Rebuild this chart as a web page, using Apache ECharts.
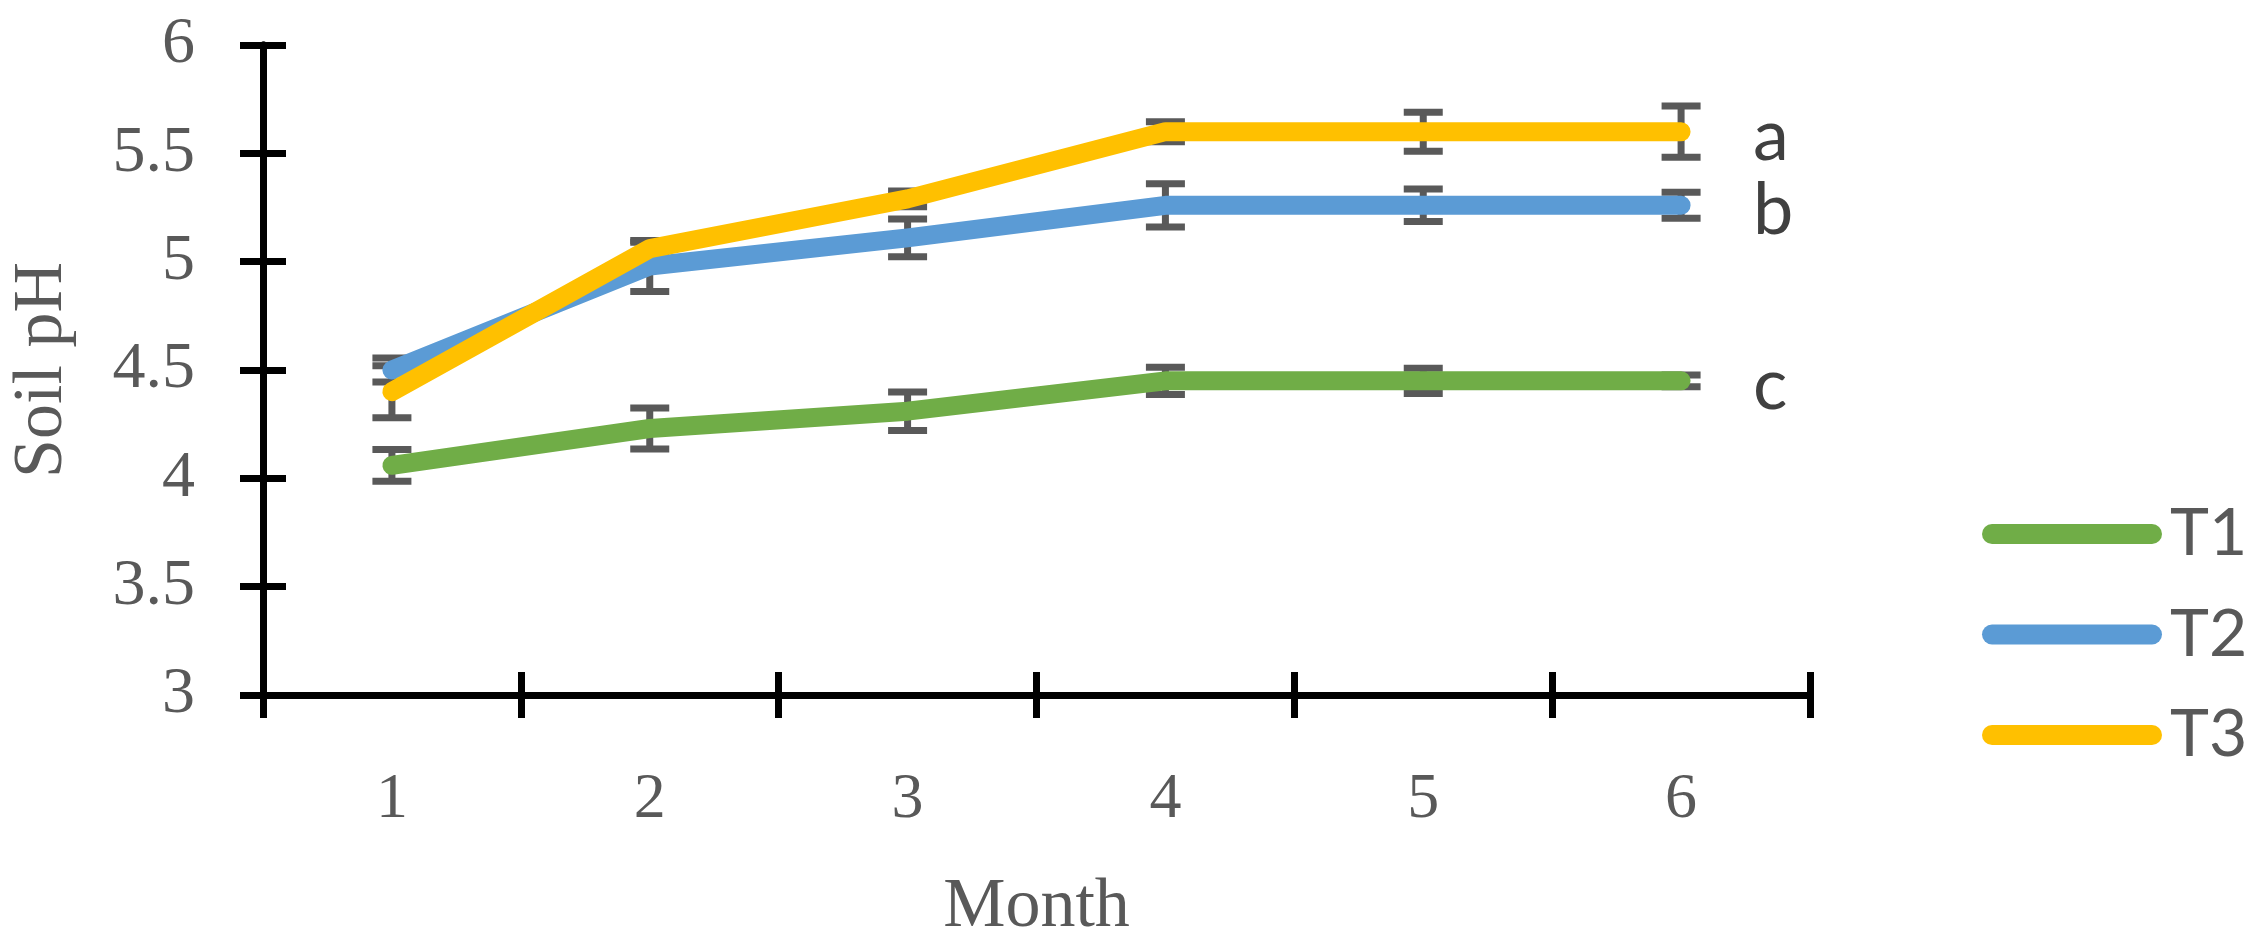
<!DOCTYPE html>
<html>
<head>
<meta charset="utf-8">
<script src="https://cdn.jsdelivr.net/npm/echarts@6/dist/echarts.min.js"></script>
<style>
html,body{margin:0;padding:0;background:#fff;}
#chart{width:2256px;height:948px;}
</style>
</head>
<body>
<div id="chart"></div>
<script>
const months = ['1', '2', '3', '4', '5', '6'];
const seriesNames = ['T1', 'T2', 'T3'];
const t1Values = [4.06, 4.23, 4.31, 4.45, 4.45, 4.45];
const t1Errors = [0.073, 0.095, 0.089, 0.063, 0.058, 0.027];
const t2Values = [4.50, 4.98, 5.11, 5.26, 5.26, 5.26];
const t2Errors = [0.055, 0.118, 0.087, 0.10, 0.075, 0.06];
const t3Values = [4.40, 5.06, 5.29, 5.60, 5.60, 5.60];
const t3Errors = [0.12, 0.03, 0.036, 0.046, 0.09, 0.118];
const groupLetters = ['c', 'b', 'a'];
const colors = ['#70AD47', '#5B9BD5', '#FFC000'];

const valueSets = [t1Values, t2Values, t3Values];
const errorSets = [t1Errors, t2Errors, t3Errors];

const serif = '"Liberation Serif", "DejaVu Serif", serif';
const sans = 'Lato, "Open Sans", sans-serif';

function renderErr(params, api) {
  const x = api.value(0);
  const lo = api.coord([x, api.value(1)]);
  const hi = api.coord([x, api.value(2)]);
  const hw = 19.5;
  const style = { stroke: '#595959', lineWidth: 7, fill: null };
  return {
    type: 'group',
    children: [
      { type: 'line', shape: { x1: lo[0], y1: lo[1], x2: hi[0], y2: hi[1] }, style: style },
      { type: 'line', shape: { x1: lo[0] - hw, y1: lo[1], x2: lo[0] + hw, y2: lo[1] }, style: style },
      { type: 'line', shape: { x1: hi[0] - hw, y1: hi[1], x2: hi[0] + hw, y2: hi[1] }, style: style }
    ]
  };
}

const series = [];
valueSets.forEach((vals, i) => {
  series.push({
    name: 'err-' + seriesNames[i],
    type: 'custom',
    xAxisIndex: 0,
    yAxisIndex: 0,
    renderItem: renderErr,
    encode: { x: 0, y: [1, 2] },
    data: vals.map((v, j) => [j, v - errorSets[i][j], v + errorSets[i][j]]),
    z: 1,
    silent: true
  });
});
valueSets.forEach((vals, i) => {
  series.push({
    name: seriesNames[i],
    type: 'line',
    xAxisIndex: 0,
    yAxisIndex: 0,
    data: vals,
    symbol: 'none',
    showSymbol: false,
    color: colors[i],
    lineStyle: { width: 19, color: colors[i], cap: 'round', join: 'round' },
    z: 3,
    endLabel: {
      show: true,
      distance: 72,
      offset: [0, 5],
      fontFamily: sans,
      fontSize: 72,
      color: '#404040',
      formatter: () => groupLetters[i]
    }
  });
});

const axisLineStyle = { color: '#000', width: 7 };

const option = {
  animation: false,
  backgroundColor: '#fff',
  grid: { left: 260, right: 446, top: 45, bottom: 248, containLabel: false },
  legend: {
    data: seriesNames,
    orient: 'vertical',
    left: 1977,
    top: 496,
    itemWidth: 180,
    itemHeight: 20,
    itemGap: 34.5,
    icon: 'path://M10 0H170A10 10 0 0 1 170 20H10A10 10 0 0 1 10 0Z',
    textStyle: { fontFamily: sans, fontSize: 66, lineHeight: 66, color: '#595959', padding: [0, 0, 0, 3] },
    selectedMode: false
  },
  xAxis: [
    {
      type: 'category',
      data: months,
      position: 'bottom',
      boundaryGap: true,
      axisLine: { show: true, onZero: false, lineStyle: axisLineStyle },
      axisTick: { show: true, inside: false, length: 23, lineStyle: axisLineStyle },
      axisLabel: { show: true, margin: 73, fontFamily: serif, fontSize: 64, color: '#595959' },
      splitLine: { show: false },
      name: 'Month',
      nameLocation: 'middle',
      nameGap: 178,
      nameTextStyle: { fontFamily: serif, fontSize: 70, color: '#595959' }
    },
    {
      type: 'category',
      data: months,
      position: 'bottom',
      boundaryGap: true,
      axisLine: { show: true, onZero: false, lineStyle: axisLineStyle },
      axisTick: { show: true, inside: true, length: 23, lineStyle: axisLineStyle },
      axisLabel: { show: false },
      splitLine: { show: false }
    }
  ],
  yAxis: [
    {
      type: 'value',
      min: 3,
      max: 6,
      interval: 0.5,
      position: 'left',
      axisLine: { show: true, onZero: false, lineStyle: axisLineStyle },
      axisTick: { show: true, inside: false, length: 23, lineStyle: axisLineStyle },
      axisLabel: { show: true, margin: 68, fontFamily: serif, fontSize: 66, color: '#595959' },
      splitLine: { show: false },
      name: 'Soil pH',
      nameLocation: 'middle',
      nameGap: 185,
      nameTextStyle: { fontFamily: serif, fontSize: 70, color: '#595959' }
    },
    {
      type: 'value',
      min: 3,
      max: 6,
      interval: 0.5,
      position: 'left',
      axisLine: { show: true, onZero: false, lineStyle: axisLineStyle },
      axisTick: { show: true, inside: true, length: 23, lineStyle: axisLineStyle },
      axisLabel: { show: false },
      splitLine: { show: false }
    }
  ],
  series: series
};

const chart = echarts.init(document.getElementById('chart'), null, { renderer: 'canvas' });
chart.setOption(option);
</script>
</body>
</html>
